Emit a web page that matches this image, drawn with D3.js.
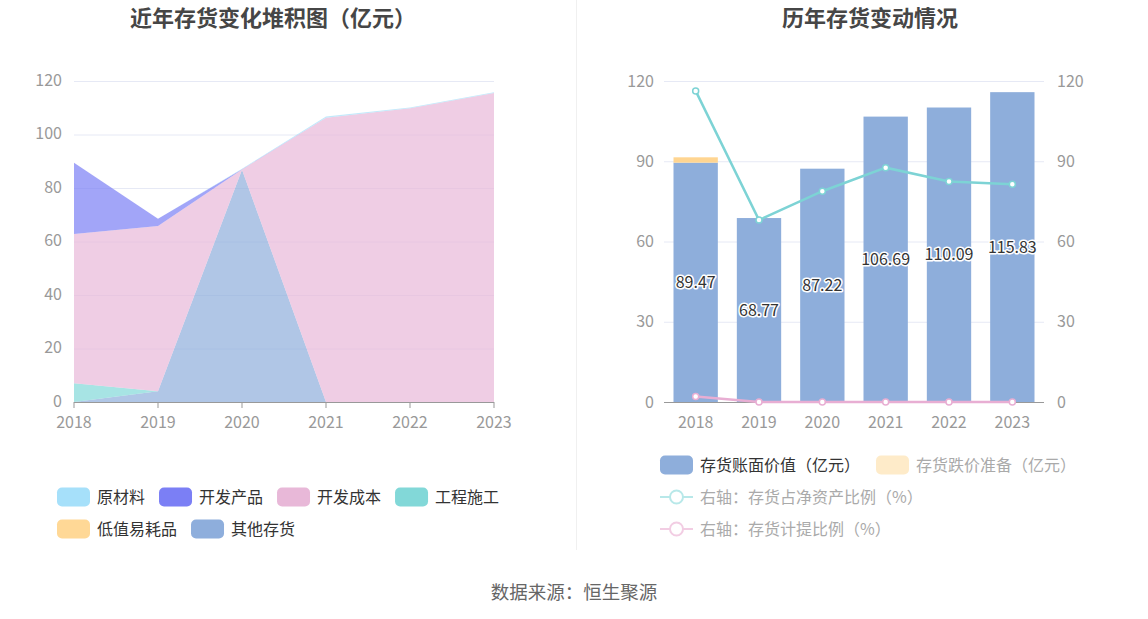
<!DOCTYPE html>
<html>
<head>
<meta charset="utf-8">
<script src="https://cdn.jsdelivr.net/npm/d3@7/dist/d3.min.js"></script>
<style>
  body { margin: 0; background: #fff; }
  svg { font-family: "Noto Sans CJK SC", "Noto Sans", sans-serif; }
</style>
</head>
<body>
<svg id="chart" width="1148" height="619"></svg>
<script>
// ---------------- data ----------------
var years = ["2018", "2019", "2020", "2021", "2022", "2023"];

// left chart: stacked inventory composition (亿元)
var rawMaterial = [0, 0, 0.2, 0.4, 0.3, 0.33];
var devProduct = [26.67, 2.7, 0.1, 0, 0, 0];
var devCost = [55.8, 61.8, 0.12, 106.29, 109.79, 115.5];
var construction = [7.0, 0, 0, 0, 0, 0];
var lowValue = [0, 0, 0, 0, 0, 0];
var otherInv = [0, 4.0, 86.8, 0, 0, 0];

// right chart
var bookValue = [89.47, 68.77, 87.22, 106.69, 110.09, 115.83];
var impairment = [2.0, 0, 0, 0, 0, 0];
var ratioNetAsset = [116.3, 68.0, 78.8, 87.6, 82.4, 81.4];
var provisionRatio = [2.1, 0, 0, 0, 0, 0];

var yTicks = [0, 20, 40, 60, 80, 100, 120];
var yTicksRight = [0, 30, 60, 90, 120];

var svg = d3.select("#chart");
var gridColor = "#e6e9f5";
var labelColor = "#999";

// divider + titles + source
svg.append("line")
  .attr("x1", 576.5).attr("x2", 576.5).attr("y1", 0).attr("y2", 550)
  .attr("stroke", "#f0f0f0");

svg.append("text").text("近年存货变化堆积图（亿元）")
  .attr("x", 273).attr("y", 26).attr("text-anchor", "middle")
  .attr("font-size", 22).attr("font-weight", "bold").attr("fill", "#464646");
svg.append("text").text("历年存货变动情况")
  .attr("x", 870).attr("y", 26).attr("text-anchor", "middle")
  .attr("font-size", 22).attr("font-weight", "bold").attr("fill", "#464646");
svg.append("text").text("数据来源：恒生聚源")
  .attr("x", 574).attr("y", 599).attr("text-anchor", "middle")
  .attr("font-size", 18.5).attr("fill", "#666");

// ---------------- left: stacked area ----------------
var seriesDefs = [
  { key: "原材料", values: rawMaterial, color: "#a6e0fa" },
  { key: "开发产品", values: devProduct, color: "#7b7ff5" },
  { key: "开发成本", values: devCost, color: "#e8b8d8" },
  { key: "工程施工", values: construction, color: "#82d8d8" },
  { key: "低值易耗品", values: lowValue, color: "#ffd896" },
  { key: "其他存货", values: otherInv, color: "#8eaedc" }
];
// stacking order, bottom to top
var stackOrder = ["其他存货", "工程施工", "开发成本", "开发产品", "低值易耗品", "原材料"];

var rows = years.map(function(yr, i) {
  var r = { year: yr };
  seriesDefs.forEach(function(s) { r[s.key] = s.values[i]; });
  return r;
});

var xL = d3.scalePoint().domain(years).range([74, 494]);
var yL = d3.scaleLinear().domain([0, 120]).range([402, 81]);

var gL = svg.append("g");
gL.selectAll(".grid").data(yTicks.slice(1)).enter().append("line")
  .attr("x1", 74).attr("x2", 494)
  .attr("y1", function(d) { return yL(d) + 0.5; })
  .attr("y2", function(d) { return yL(d) + 0.5; })
  .attr("stroke", gridColor);

var stacked = d3.stack().keys(stackOrder)(rows);
var colorOf = {};
seriesDefs.forEach(function(s) { colorOf[s.key] = s.color; });

var area = d3.area()
  .x(function(d) { return xL(d.data.year); })
  .y0(function(d) { return yL(d[0]); })
  .y1(function(d) { return yL(d[1]); });

gL.selectAll(".layer").data(stacked).enter().append("path")
  .attr("d", area)
  .attr("fill", function(d) { return colorOf[d.key]; })
  .attr("fill-opacity", 0.7);

// left y labels
gL.selectAll(".ylab").data(yTicks).enter().append("text")
  .attr("x", 62).attr("y", function(d) { return yL(d) - 1; })
  .attr("dy", "0.35em").attr("text-anchor", "end")
  .attr("font-size", 16).attr("fill", labelColor)
  .text(function(d) { return d; });

// left x axis
gL.append("line").attr("x1", 74).attr("x2", 494)
  .attr("y1", 402.5).attr("y2", 402.5).attr("stroke", "#999");
gL.selectAll(".xt").data(years).enter().append("line")
  .attr("x1", function(d) { return xL(d); }).attr("x2", function(d) { return xL(d); })
  .attr("y1", 402).attr("y2", 408).attr("stroke", "#999");
gL.selectAll(".xlab").data(years).enter().append("text")
  .attr("x", function(d) { return xL(d); }).attr("y", 428)
  .attr("text-anchor", "middle").attr("font-size", 16).attr("fill", labelColor)
  .text(function(d) { return d; });

// left legend
function legendRow(items, x0, yc) {
  var x = x0;
  items.forEach(function(s) {
    svg.append("rect").attr("x", x).attr("y", yc - 9.5).attr("width", 33).attr("height", 19)
      .attr("rx", 5).attr("fill", s.color);
    var t = svg.append("text").text(s.key).attr("x", x + 40).attr("y", yc)
      .attr("dy", "0.35em").attr("font-size", 16).attr("fill", "#333");
    x = x + 40 + t.node().getComputedTextLength() + 14;
  });
}
legendRow(seriesDefs.slice(0, 4), 57, 497);
legendRow(seriesDefs.slice(4), 57, 529);

// ---------------- right: bars + lines ----------------
var xR = d3.scaleBand().domain(years).range([664, 1044]).paddingInner(0.3).paddingOuter(0.15);
var yR = d3.scaleLinear().domain([0, 120]).range([402, 81]);
var yR2 = d3.scaleLinear().domain([0, 120]).range([402, 81]);

var gR = svg.append("g");
gR.selectAll(".grid").data(yTicksRight.slice(1)).enter().append("line")
  .attr("x1", 664).attr("x2", 1044)
  .attr("y1", function(d) { return yR(d) + 0.5; })
  .attr("y2", function(d) { return yR(d) + 0.5; })
  .attr("stroke", gridColor);

gR.selectAll(".bar").data(years).enter().append("rect")
  .attr("x", function(d) { return xR(d); })
  .attr("width", xR.bandwidth())
  .attr("y", function(d, i) { return yR(bookValue[i]); })
  .attr("height", function(d, i) { return yR(0) - yR(bookValue[i]); })
  .attr("fill", "#8eaedb");

gR.selectAll(".bar2").data(years).enter().append("rect")
  .attr("x", function(d) { return xR(d); })
  .attr("width", xR.bandwidth())
  .attr("y", function(d, i) { return yR(bookValue[i] + impairment[i]); })
  .attr("height", function(d, i) { return yR(bookValue[i]) - yR(bookValue[i] + impairment[i]); })
  .attr("fill", "#ffd591");

gR.append("line").attr("x1", 664).attr("x2", 1044)
  .attr("y1", 402.5).attr("y2", 402.5).attr("stroke", "#999");

// y labels both sides
gR.selectAll(".ylab").data(yTicksRight).enter().append("text")
  .attr("x", 654).attr("y", function(d) { return yR(d); })
  .attr("dy", "0.35em").attr("text-anchor", "end")
  .attr("font-size", 16).attr("fill", labelColor)
  .text(function(d) { return d; });
gR.selectAll(".ylab2").data(yTicksRight).enter().append("text")
  .attr("x", 1057).attr("y", function(d) { return yR2(d); })
  .attr("dy", "0.35em").attr("text-anchor", "start")
  .attr("font-size", 16).attr("fill", labelColor)
  .text(function(d) { return d; });
gR.selectAll(".xlab").data(years).enter().append("text")
  .attr("x", function(d) { return xR(d) + xR.bandwidth() / 2; }).attr("y", 428)
  .attr("text-anchor", "middle").attr("font-size", 16).attr("fill", labelColor)
  .text(function(d) { return d; });

// lines
function drawLine(values, color) {
  var line = d3.line()
    .x(function(d, i) { return xR(years[i]) + xR.bandwidth() / 2; })
    .y(function(d) { return yR2(d); });
  gR.append("path").datum(values).attr("d", line)
    .attr("fill", "none").attr("stroke", color).attr("stroke-width", 2.5);
  gR.selectAll(null).data(values).enter().append("circle")
    .attr("cx", function(d, i) { return xR(years[i]) + xR.bandwidth() / 2; })
    .attr("cy", function(d) { return yR2(d); })
    .attr("r", 3).attr("fill", "#fff").attr("stroke", color).attr("stroke-width", 1.5);
}
drawLine(ratioNetAsset, "#7dd3d5");
drawLine(provisionRatio, "#e8aed3");

// value labels
gR.selectAll(".vlab").data(bookValue).enter().append("text")
  .attr("x", function(d, i) { return xR(years[i]) + xR.bandwidth() / 2; })
  .attr("y", function(d) { return yR(d / 2); })
  .attr("dy", "0.35em").attr("text-anchor", "middle")
  .attr("font-size", 16).attr("fill", "#333")
  .attr("stroke", "#fff").attr("stroke-width", 3).attr("paint-order", "stroke")
  .attr("stroke-linejoin", "round")
  .text(function(d) { return d.toFixed(2); });

// right legend
var lx = 660;
svg.append("rect").attr("x", lx).attr("y", 455.5).attr("width", 33).attr("height", 19)
  .attr("rx", 5).attr("fill", "#8eaedb");
var t1 = svg.append("text").text("存货账面价值（亿元）").attr("x", lx + 40).attr("y", 465)
  .attr("dy", "0.35em").attr("font-size", 16).attr("fill", "#333");
var lx2 = lx + 40 + t1.node().getComputedTextLength() + 16;
svg.append("rect").attr("x", lx2).attr("y", 455.5).attr("width", 33).attr("height", 19)
  .attr("rx", 5).attr("fill", "#feebc9");
svg.append("text").text("存货跌价准备（亿元）").attr("x", lx2 + 40).attr("y", 465)
  .attr("dy", "0.35em").attr("font-size", 16).attr("fill", "#aaa");

function lineLegend(label, color, yc) {
  svg.append("line").attr("x1", lx).attr("x2", lx + 33).attr("y1", yc).attr("y2", yc)
    .attr("stroke", color).attr("stroke-width", 2);
  svg.append("circle").attr("cx", lx + 16.5).attr("cy", yc).attr("r", 6.5)
    .attr("fill", "#fff").attr("stroke", color).attr("stroke-width", 2);
  svg.append("text").text(label).attr("x", lx + 40).attr("y", yc)
    .attr("dy", "0.35em").attr("font-size", 16).attr("fill", "#aaa");
}
lineLegend("右轴：存货占净资产比例（%）", "#b8e8e9", 497);
lineLegend("右轴：存货计提比例（%）", "#f2cde3", 529);
</script>
</body>
</html>
